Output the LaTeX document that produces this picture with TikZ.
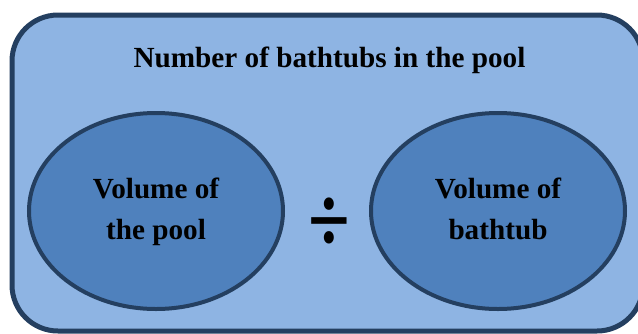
\documentclass[tikz,border=0pt]{standalone}
\usepackage{fontspec}
\setmainfont{Liberation Serif}
\usepackage{xcolor}
\usepackage{tikz}
\usetikzlibrary{positioning,shapes.geometric,calc}
\definecolor{navy}{RGB}{36,63,96}
\definecolor{lightpool}{RGB}{142,180,227}
\definecolor{midblue}{RGB}{79,129,189}

\begin{document}
\begin{tikzpicture}[
  x=0.5pt, y=-0.5pt,
  every node/.style={font=\fontsize{14.6}{20.5}\selectfont\bfseries},
  poolbox/.style={draw=navy, fill=lightpool, line width=2.5pt, rounded corners=23pt},
  volume/.style={ellipse, draw=navy, fill=midblue, line width=2pt, inner sep=0pt,
                 minimum width=127pt, minimum height=98pt, align=center}
]
  \clip (0,0) rectangle (638,333);
  \useasboundingbox (0,0) rectangle (638,333);
  \draw[poolbox] (12,15) rectangle (643,331);
  \node[anchor=base] (title) at (329.5,67) {Number of bathtubs in the pool};
  \node[volume] (pool) at (156,211) {\strut Volume of\\\strut the pool};
  \node[volume] (tub)  at (498,211) {\strut Volume of\\\strut bathtub};
  \node[font=\fontsize{38}{44}\selectfont\bfseries, inner sep=0pt] (div) at (329,225) {\scalebox{1}[1.25]{÷}};
\end{tikzpicture}
\end{document}
